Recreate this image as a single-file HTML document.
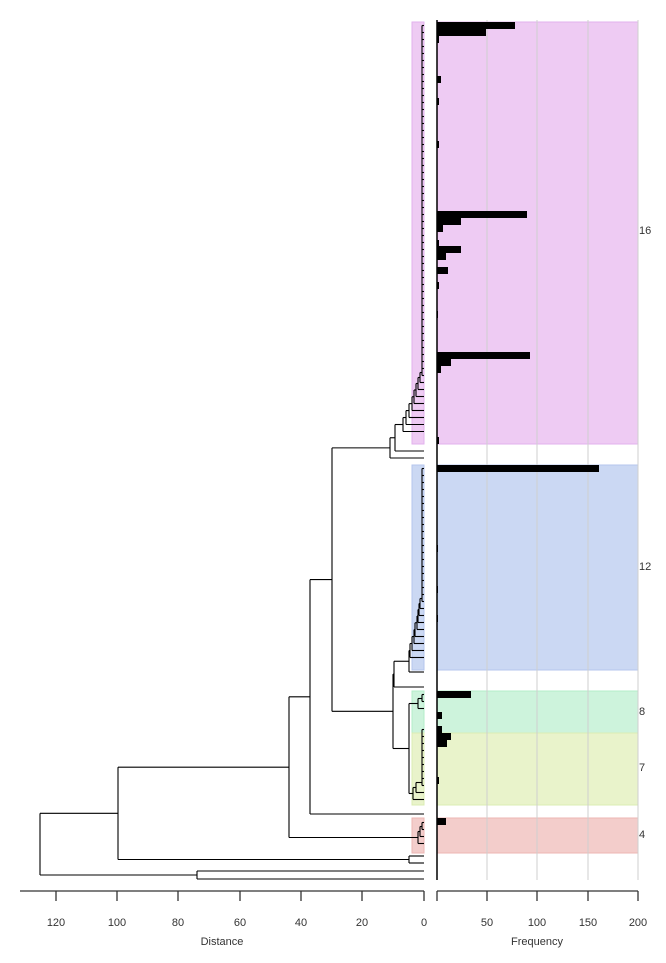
<!DOCTYPE html>
<html><head><meta charset="utf-8"><style>
html,body{margin:0;padding:0;background:#fff;width:666px;height:963px;overflow:hidden}
svg{display:block}
text{font-family:"Liberation Sans",sans-serif;font-size:11px;fill:#333}
</style></head><body>
<svg id="s" width="666" height="963" xmlns="http://www.w3.org/2000/svg">
<g id="bg"></g>
<g id="grid" stroke="#cfcfcf" stroke-width="1"></g>
<g id="bars" fill="#000"></g>
<g id="tree" stroke="#000" stroke-width="1.1" fill="none"></g>
<line x1="437" y1="20" x2="437" y2="880" stroke="#000" stroke-width="1.5"/>
<g stroke="#333" stroke-width="1.3">
<line x1="20" y1="891" x2="424" y2="891"/>
<line x1="437" y1="891" x2="638" y2="891"/>
</g>
<g id="ticks" stroke="#333" stroke-width="1.3"></g>
<g id="labels"></g>
<text x="222" y="945" text-anchor="middle">Distance</text>
<text x="537" y="945" text-anchor="middle">Frequency</text>
<text x="639" y="234">16</text>
<text x="639" y="570">12</text>
<text x="639" y="715">8</text>
<text x="639" y="771">7</text>
<text x="639" y="838">4</text>
</svg>
<script>
var NS="http://www.w3.org/2000/svg";
function el(g,t,a){var e=document.createElementNS(NS,t);for(var k in a)e.setAttribute(k,a[k]);document.getElementById(g).appendChild(e);return e;}
var boxes=[[22,444,"#eecbf3","#e2b2ee"],[465,670,"#cbd8f3","#b4c6ee"],[691,733,"#cdf3dc","#b3ecc8"],[733,805,"#e9f3cb","#dbecb3"],[818,853,"#f3cdcb","#ecb6b3"]];
boxes.forEach(function(b){
 el("bg","rect",{x:412,y:b[0],width:12,height:b[1]-b[0],fill:b[2],stroke:b[3]});
 el("bg","rect",{x:437,y:b[0],width:201,height:b[1]-b[0],fill:b[2],stroke:b[3]});
});
[487,537,588,638].forEach(function(x){el("grid","line",{x1:x,y1:20,x2:x,y2:880});});
var bars=[[22,78],[29,49],[36,2],[76,4],[98,2],[141,2],[211,90],[218,24],[225,6],[240,2],[246,24],[253,9],[267,11],[282,2],[311,1],[352,93],[359,14],[366,4],[437,2],[465,162],[545,1],[586,1],[615,1],[691,34],[712,5],[726,5],[733,14],[740,10],[777,2],[818,9]];
bars.forEach(function(b){el("bars","rect",{x:437,y:b[0],width:b[1],height:7});});
[[56,"120"],[117,"100"],[178,"80"],[240,"60"],[301,"40"],[362,"20"],[424,"0"]].forEach(function(t){
 el("ticks","line",{x1:t[0],y1:891,x2:t[0],y2:901});
 var e=el("labels","text",{x:t[0],y:926,"text-anchor":"middle"});e.textContent=t[1];});
[[437,""],[487,"50"],[537,"100"],[588,"150"],[638,"200"]].forEach(function(t){
 el("ticks","line",{x1:t[0],y1:891,x2:t[0],y2:901});
 if(t[1]){var e=el("labels","text",{x:t[0],y:926,"text-anchor":"middle"});e.textContent=t[1];}});
function L(x1,y1,x2,y2){el("tree","line",{x1:x1,y1:y1,x2:x2,y2:y2});}
function leaf(y){return {x:424,y:y};}
function join(a,b,x){L(x,a.y,x,b.y);L(x,a.y,a.x,a.y);L(x,b.y,b.x,b.y);return {x:x,y:(a.y+b.y)/2};}
function ladder(ys,n0,xs){
 L(422,ys[0],422,ys[n0-1]);
 for(var i=0;i<n0;i++)L(422,ys[i],424,ys[i]);
 var cur={x:422,y:ys[n0-1]-3};
 for(var j=0;j<xs.length&&n0+j<ys.length;j++){cur=join(cur,leaf(ys[n0+j]),xs[j]);}
 return cur;
}
function rows(a,b){var r=[];for(var y=a;y<=b;y+=7)r.push(y);return r;}
var py=rows(25.5,438);
var P=ladder(py,py.length-8,[420,418,416,414,412,409,406,403]);
P=join(P,leaf(451),395);
P=join(P,leaf(458),390);
var by=rows(468.5,662);
var B=ladder(by,by.length-8,[420,419,418,417,415,414,412,410]);
B=join(B,leaf(672),409);
B=join(B,leaf(687),394);
var G=ladder(rows(694.5,715),2,[418,416]);
var Y=ladder(rows(729.5,802),9,[416,413]);
var GY=join(G,Y,409);
var BGY=join(B,GY,393);
var A=join(P,BGY,332);
A=join(A,leaf(814),310);
var R=ladder(rows(822.5,850),2,[420,418,417]);
A=join(A,R,289);
var C=join(leaf(856),leaf(863),409);
A=join(A,C,118);
var D=join(leaf(871),leaf(879),197);
A=join(A,D,40);
</script>
</body></html>
